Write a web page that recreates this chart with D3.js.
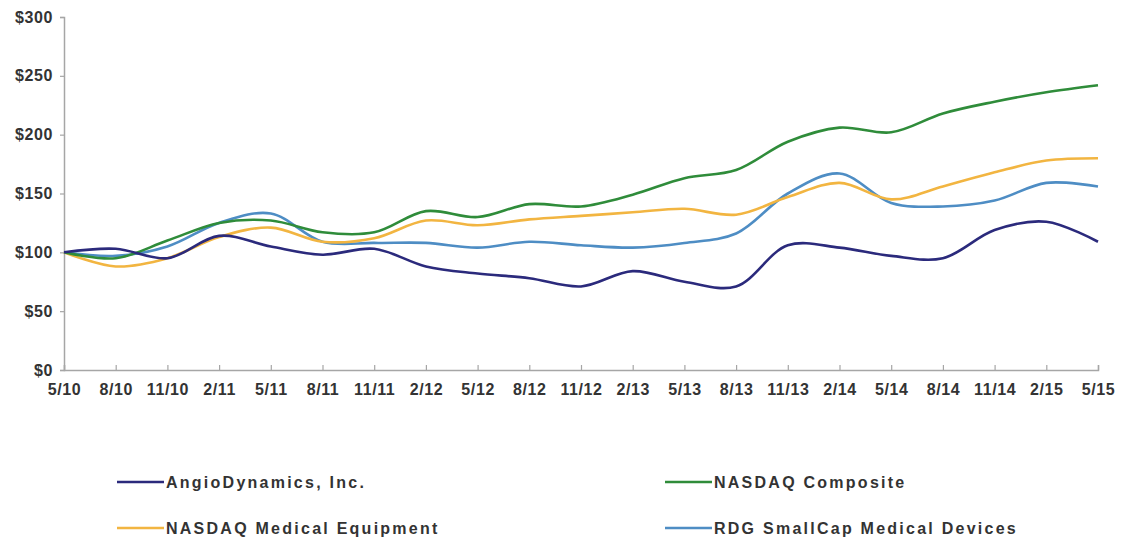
<!DOCTYPE html>
<html>
<head>
<meta charset="utf-8">
<script src="https://cdn.jsdelivr.net/npm/d3@7/dist/d3.min.js"></script>
<style>
  html, body { margin: 0; padding: 0; background: #ffffff; }
  svg { display: block; }
  text { font-family: Arial, "Liberation Sans", sans-serif; font-weight: bold; fill: #333; }
</style>
</head>
<body>
<svg id="chart" width="1121" height="542"></svg>
<script>
const periods = ["5/10","8/10","11/10","2/11","5/11","8/11","11/11","2/12","5/12","8/12","11/12","2/13","5/13","8/13","11/13","2/14","5/14","8/14","11/14","2/15","5/15"];
const angio   = [100,103,95,114,105,98,103,88,82,78,71,84,75,71,106,104,97,95,119,126,109];
const nasdaq  = [100,95,110,125,127,117,117,135,130,141,139,149,163,170,194,206,202,218,228,236,242];
const medEq   = [100,88,95,113,121,109,112,127,123,128,131,134,137,132,147,159,145,156,168,178,180];
const rdg     = [100,97,105,125,133,109,108,108,104,109,106,104,108,116,150,167,142,139,144,159,156];
const yTicks  = [0,50,100,150,200,250,300];
const seriesNames = ["AngioDynamics, Inc.","NASDAQ Composite","NASDAQ Medical Equipment","RDG SmallCap Medical Devices"];

const colors = { angio: "#2b2a7c", nasdaq: "#2f8c3a", medEq: "#f2b541", rdg: "#4e8dc4" };

const svg = d3.select("#chart");
const mLeft = 64, mRight = 1098, mTop = 17, mBottom = 370;

const x = d3.scalePoint().domain(periods).range([mLeft, mRight]);
const y = d3.scaleLinear().domain([0, 300]).range([mBottom, mTop]);

const yAxis = svg.append("g").attr("transform", `translate(${mLeft},0)`)
  .call(d3.axisLeft(y).tickValues(yTicks).tickSize(4).tickPadding(7).tickFormat(d => "$" + d));
const xAxis = svg.append("g").attr("transform", `translate(0,${mBottom})`)
  .call(d3.axisBottom(x).tickSize(-5).tickPadding(14));

[yAxis, xAxis].forEach(g => {
  g.select(".domain").attr("stroke", "#a6a6a6").attr("stroke-width", 1.5);
  g.selectAll(".tick line").attr("stroke", "#a6a6a6").attr("stroke-width", 1.2);
  g.selectAll(".tick text").attr("fill", "#333").style("font-size", "16px").style("font-weight", "bold")
    .style("letter-spacing", "0.6px")
    .style("font-family", "Arial, 'Liberation Sans', sans-serif");
});

const line = d3.line()
  .x((d, i) => x(periods[i]))
  .y(d => y(d))
  .curve(d3.curveCatmullRom.alpha(0.5));

const series = [
  { key: "rdg", data: rdg },
  { key: "medEq", data: medEq },
  { key: "nasdaq", data: nasdaq },
  { key: "angio", data: angio }
];

svg.append("g").selectAll("path").data(series).join("path")
  .attr("d", d => line(d.data))
  .attr("fill", "none")
  .attr("stroke", d => colors[d.key])
  .attr("stroke-width", 2.6)
  .attr("stroke-linejoin", "round");

const legendItems = [
  { name: seriesNames[0], key: "angio", lx: 117, ly: 482 },
  { name: seriesNames[1], key: "nasdaq", lx: 665, ly: 482 },
  { name: seriesNames[2], key: "medEq", lx: 117, ly: 528 },
  { name: seriesNames[3], key: "rdg", lx: 665, ly: 528 }
];
const lg = svg.append("g").selectAll("g").data(legendItems).join("g")
  .attr("transform", d => `translate(${d.lx},${d.ly})`);
lg.append("line").attr("x1", 0).attr("x2", 47).attr("y1", 0).attr("y2", 0)
  .attr("stroke", d => colors[d.key]).attr("stroke-width", 2.6);
lg.append("text").attr("x", 49).attr("y", 0).attr("dy", "0.35em")
  .style("font-size", "16px").style("letter-spacing", "2.25px")
  .text(d => d.name);
</script>
</body>
</html>
